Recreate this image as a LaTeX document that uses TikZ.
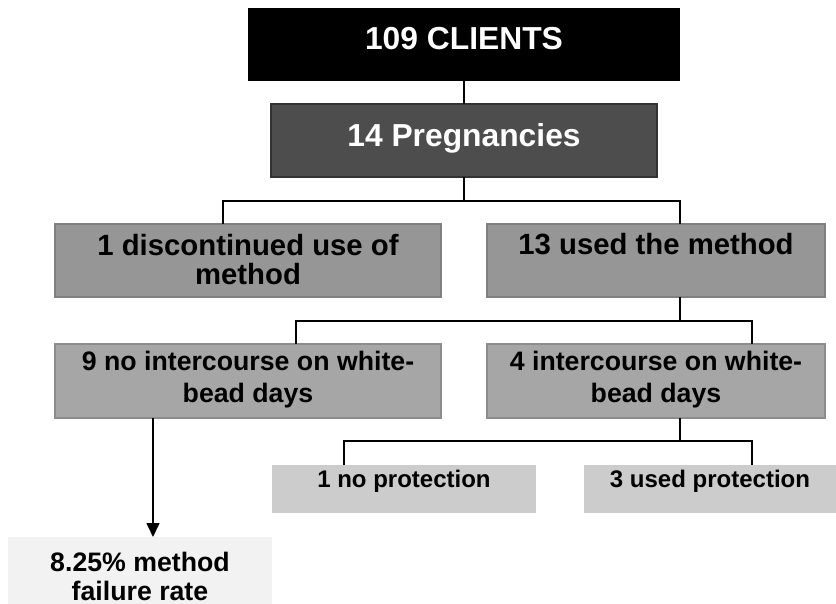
\documentclass[tikz,border=0pt]{standalone}
\usepackage{fontspec}
\setmainfont{Liberation Sans}
\usetikzlibrary{arrows.meta}
\definecolor{cPreg}{HTML}{4D4D4D}
\definecolor{cPregB}{HTML}{333333}
\definecolor{cMid}{HTML}{969696}
\definecolor{cMidB}{HTML}{808080}
\definecolor{cLow}{HTML}{A6A6A6}
\definecolor{cLowB}{HTML}{8C8C8C}
\definecolor{cProt}{HTML}{CCCCCC}
\definecolor{cFin}{HTML}{F2F2F2}
\begin{document}
\begin{tikzpicture}[x=1pt,y=-1pt,
  box/.style={rectangle, inner sep=0pt, outer sep=0pt, anchor=north west},
  midbox/.style={box, fill=cMid, draw=cMidB, line width=1.5pt, minimum height=73pt},
  lowbox/.style={box, fill=cLow, draw=cLowB, line width=1.5pt, minimum height=74pt},
  protbox/.style={box, fill=cProt, minimum height=48pt},
  txt/.style={inner sep=0pt, anchor=base, align=center, font=\bfseries\fontsize{29.3}{29.5}\selectfont},
  lowtxt/.style={txt, font=\bfseries\fontsize{26.7}{32}\selectfont},
  bigtxt/.style={txt, text=white, font=\bfseries\fontsize{31.8}{34}\selectfont},
  smalltxt/.style={txt, font=\bfseries\fontsize{24}{26}\selectfont},
  fintxt/.style={txt, font=\bfseries\fontsize{26.7}{28.5}\selectfont},
  conn/.style={line width=1.5pt, black}]
\useasboundingbox (0,0) rectangle (836,604);
% boxes
\node[box, fill=black, minimum width=432pt, minimum height=73pt] (top) at (248,8) {};
\node[box, fill=cPreg, draw=cPregB, line width=1.5pt, minimum width=386pt, minimum height=73pt] (preg) at (271,104) {};
\node[midbox, minimum width=386pt] (b1) at (55,224) {};
\node[midbox, minimum width=338pt] (b13) at (487,224) {};
\node[lowbox, minimum width=386pt] (b9) at (55,344) {};
\node[lowbox, minimum width=338pt] (b4) at (487,344) {};
\node[protbox, minimum width=264pt] (p1) at (272,465) {};
\node[protbox, minimum width=252pt] (p3) at (584,465) {};
\node[box, fill=cFin, minimum width=264pt, minimum height=67pt] (fin) at (8,537) {};
% texts (multi-line nodes are placed by the baseline of their last line)
\node[bigtxt] (ttop) at (464,50) {109 CLIENTS};
\node[bigtxt] (tpreg) at (464,146.7) {14 Pregnancies};
\node[txt] (t1) at (248,285) {1 discontinued use of\\method};
\node[txt] (t13) at (656,254.5) {13 used the method};
\node[lowtxt] (t9) at (248,402) {9 no intercourse on white-\\bead days};
\node[lowtxt] (t4) at (656,402) {4 intercourse on white-\\bead days};
\node[smalltxt] (tp1) at (404,487.7) {1 no protection};
\node[smalltxt] (tp3) at (710,487.7) {3 used protection};
\node[fintxt] (tfin) at (140,600) {8.25\% method\\failure rate};
% junctions
\coordinate (j1) at (464,201);
\coordinate (j2) at (680,321);
\coordinate (j3) at (680,441);
% connectors
\draw[conn] (top.south) -- (preg.north);
\draw[conn] (preg.south) -- (j1);
\draw[conn] ([xshift=168pt]b1.north west) |- (j1) -| ([xshift=193pt]b13.north west);
\draw[conn] ([xshift=193pt]b13.south west) -- (j2);
\draw[conn] ([xshift=241pt]b9.north west) |- (j2) -| ([xshift=265pt]b4.north west);
\draw[conn] ([xshift=193pt]b4.south west) -- (j3);
\draw[conn] ([xshift=72pt]p1.north west) |- (j3) -| ([xshift=168pt]p3.north west);
\draw[conn, -{Triangle[length=14pt,width=13pt]}] ([xshift=98pt]b9.south west) -- ([xshift=145pt]fin.north west);
\end{tikzpicture}
\end{document}
